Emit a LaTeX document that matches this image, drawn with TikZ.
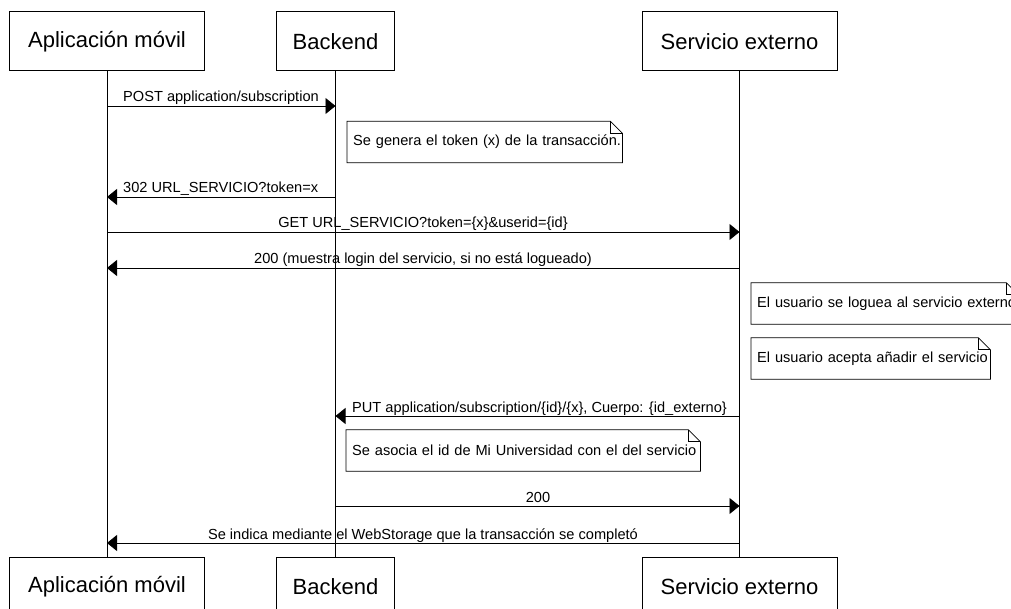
\documentclass[tikz,border=0pt]{standalone}
\usepackage{fontspec}
\setmainfont{Liberation Sans}
\usetikzlibrary{arrows.meta}
\begin{document}
\begin{tikzpicture}[x=1pt,y=-1pt,
  actor/.style={draw, line width=1pt, minimum width=195pt, minimum height=59pt, inner sep=0pt, font=\fontsize{22}{26}\selectfont},
  lifeline/.style={line width=0.8pt},
  msg/.style={line width=0.8pt, -{Triangle[length=10pt,width=16pt]}},
  lbl/.style={inner sep=0pt, font=\fontsize{14.6}{17}\selectfont},
  notebox/.style={anchor=west, inner xsep=6pt, inner ysep=0pt, minimum height=41pt, align=left, font=\fontsize{14.6}{17}\selectfont},
  noteline/.style={line width=0.8pt}
]
\useasboundingbox (0,0) rectangle (1011,609);
\clip (0,0) rectangle (1011,609);
\fill[white] (0,0) rectangle (1011,609);

% actors
\node[actor] (A) at (107,41.5) {Aplicación móvil};
\node[actor, minimum width=118pt] (B) at (335.5,41.5) {Backend};
\node[actor] (S) at (739.5,41.5) {Servicio externo};
\node[actor] (A2) at (107,586.5) {Aplicación móvil};
\node[actor, minimum width=118pt] (B2) at (335.5,586.5) {Backend};
\node[actor] (S2) at (739.5,586.5) {Servicio externo};

% lifelines
\draw[lifeline] (A.south) -- (A2.north);
\draw[lifeline] (B.south) -- (B2.north);
\draw[lifeline] (S.south) -- (S2.north);

% message rows
\coordinate (m1) at (0,106);
\coordinate (m2) at (0,197);
\coordinate (m3) at (0,232);
\coordinate (m4) at (0,268);
\coordinate (m5) at (0,416);
\coordinate (m6) at (0,506);
\coordinate (m7) at (0,543);

\draw[msg] (A.south |- m1) -- (B.south |- m1);
\node[lbl, anchor=base west] (l1) at (123,102) {POST application/subscription};

\draw[msg] (B.south |- m2) -- (A.south |- m2);
\node[lbl, anchor=base west] (l2) at (123,193) {302 URL\_SERVICIO?token=x};

\draw[msg] (A.south |- m3) -- (S.south |- m3);
\node[lbl, anchor=base] (l3) at (423,228) {GET URL\_SERVICIO?token=\{x\}\&userid=\{id\}};

\draw[msg] (S.south |- m4) -- (A.south |- m4);
\node[lbl, anchor=base] (l4) at (423,264) {200 (muestra login del servicio, si no está logueado)};

\draw[msg] (S.south |- m5) -- (B.south |- m5);
\node[lbl, anchor=base west] (l5) at (352,412) {PUT application/subscription/\{id\}/\{x\}, Cuerpo: \{id\_externo\}};

\draw[msg] (B.south |- m6) -- (S.south |- m6);
\node[lbl, anchor=base] (l6) at (538,502) {200};

\draw[msg] (S.south |- m7) -- (A.south |- m7);
\node[lbl, anchor=base] (l7) at (423,539) {Se indica mediante el WebStorage que la transacción se completó};

% notes
\node[notebox, text width=263pt] (n1) at (347,142) {\mbox{Se genera el token (x) de la transacción.}};
\node[notebox, text width=255pt] (n2) at (751,303.5) {\mbox{El usuario se loguea al servicio externo}};
\node[notebox, text width=227pt] (n3) at (751,358.5) {\mbox{El usuario acepta añadir el servicio}};
\node[notebox, text width=342pt] (n4) at (346,450.5) {\mbox{Se asocia el id de Mi Universidad con el del servicio}};

\foreach \n in {n1,n2,n3,n4}{
  \draw[noteline] (\n.south west) -- (\n.north west) -- ([xshift=-12pt]\n.north east)
    -- ([yshift=-12pt]\n.north east) -- (\n.south east) -- cycle;
  \draw[noteline] ([xshift=-12pt]\n.north east) -- ([xshift=-12pt,yshift=-12pt]\n.north east)
    -- ([yshift=-12pt]\n.north east);
}
\end{tikzpicture}
\end{document}
